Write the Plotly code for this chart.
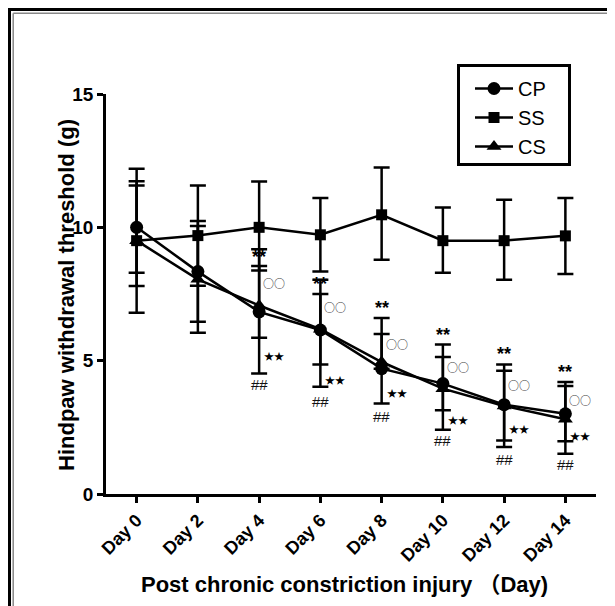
import plotly.graph_objects as go

days = ["Day 0", "Day 2", "Day 4", "Day 6", "Day 8", "Day 10", "Day 12", "Day 14"]

cp_mean = [10.0, 8.34, 6.83, 6.15, 4.70, 4.14, 3.35, 3.01]
cp_up   = [2.2, 1.90, 2.35, 1.88, 1.30, 1.00, 1.51, 1.04]
cp_down = [2.2, 1.88, 2.31, 2.13, 1.31, 1.00, 1.59, 1.03]

ss_mean = [9.5, 9.69, 10.0, 9.72, 10.47, 9.5, 9.5, 9.68]
ss_up   = [2.23, 1.88, 1.72, 1.38, 1.77, 1.24, 1.53, 1.42]
ss_down = [1.20, 1.88, 1.62, 1.38, 1.69, 1.20, 1.47, 1.43]

cs_mean = [9.5, 8.05, 7.07, 6.18, 4.95, 3.95, 3.30, 2.80]
cs_up   = [2.07, 2.00, 1.48, 1.32, 1.65, 1.66, 1.32, 1.40]
cs_down = [2.70, 2.00, 1.21, 1.32, 0.25, 1.54, 1.29, 1.29]

yticks = [0, 5, 10, 15]

sig_idx = [2, 3, 4, 5, 6, 7]
mark_dstar = [8.89, 7.87, 6.97, 5.98, 5.26, 4.57]   # "**"
mark_circ  = [7.90, 7.00, 5.62, 4.78, 4.09, 3.51]   # "○○"
mark_star  = [5.18, 4.31, 3.80, 2.79, 2.47, 2.20]   # "★★"
mark_hash  = [4.09, 3.47, 2.89, 1.99, 1.30, 1.11]   # "##"

x_title = "Post chronic constriction injury （Day)"
y_title = "Hindpaw withdrawal threshold (g)"

# page body has an 8px margin; figure is sized so it fills the 615x606 window
OFF = 8
W, H = 615 - OFF, 606 - OFF
ML, MR, MT, MB = 98, 19, 86, 112
PW, PH = W - ML - MR, H - MT - MB

def px(x):
    return (x - OFF - ML) / PW

def py(y):
    return (H - MB - (y - OFF)) / PH

FONT = "Liberation Sans, Arial, Noto Sans CJK SC, sans-serif"
CJK = "Noto Sans CJK SC, Liberation Sans, sans-serif"

xs = list(range(len(days)))

fig = go.Figure()

def add_series(name, mean, up, down, symbol, size, rank):
    fig.add_trace(go.Scatter(
        x=xs, y=mean, name=name, mode="lines+markers",
        legendgroup=name, legendrank=rank,
        line=dict(color="black", width=2.5),
        marker=dict(symbol=symbol, size=size, color="black"),
        error_y=dict(type="data", symmetric=False, array=up, arrayminus=down,
                     color="black", thickness=2.5, width=8),
    ))

add_series("SS", ss_mean, ss_up, ss_down, "square", 11, 2)
add_series("CS", cs_mean, cs_up, cs_down, "triangle-up", 13, 3)
add_series("CP", cp_mean, cp_up, cp_down, "circle", 13, 1)

ann = []
for i, k in enumerate(sig_idx):
    ann.append(dict(x=k, y=mark_dstar[i], text="**", showarrow=False,
                    font=dict(family=FONT, size=18, color="black", weight="bold")))
    ann.append(dict(x=k, y=mark_circ[i], text="○○", showarrow=False, xshift=15,
                    font=dict(family=CJK, size=11, color="#404040", weight="bold")))
    ann.append(dict(x=k, y=mark_star[i], text="★★", showarrow=False, xshift=15,
                    font=dict(family=CJK, size=10, color="black")))
    ann.append(dict(x=k, y=mark_hash[i], text="##", showarrow=False,
                    font=dict(family=FONT, size=15, color="#111111")))

ann.append(dict(xref="paper", yref="paper", x=px(344), y=py(584), text=x_title,
                showarrow=False, xanchor="center", yanchor="middle",
                font=dict(family=FONT, size=22, color="black", weight="bold")))
ann.append(dict(xref="paper", yref="paper", x=px(66), y=py(295), text=y_title,
                showarrow=False, xanchor="center", yanchor="middle", textangle=-90,
                font=dict(family=FONT, size=22, color="black", weight="bold")))

shapes = [
    # outer frame (black) and inner frame (gray)
    dict(type="line", xref="paper", yref="paper", x0=px(9.5), x1=px(9.5), y0=py(8), y1=py(640),
         line=dict(color="black", width=3)),
    dict(type="line", xref="paper", yref="paper", x0=px(8), x1=px(640), y0=py(9.5), y1=py(9.5),
         line=dict(color="black", width=3)),
    dict(type="line", xref="paper", yref="paper", x0=px(13.2), x1=px(13.2), y0=py(13.2), y1=py(640),
         line=dict(color="#888888", width=1.5)),
    dict(type="line", xref="paper", yref="paper", x0=px(13.2), x1=px(640), y0=py(13.2), y1=py(13.2),
         line=dict(color="#888888", width=1.5)),
    # legend box
    dict(type="rect", xref="paper", yref="paper", x0=px(458.5), x1=px(569.5), y0=py(65.5), y1=py(164.5),
         line=dict(color="black", width=3), fillcolor="rgba(0,0,0,0)"),
]

fig.update_layout(
    width=W, height=H,
    margin=dict(l=ML, r=MR, t=MT, b=MB, autoexpand=False),
    paper_bgcolor="white", plot_bgcolor="white",
    font=dict(family=FONT, color="black"),
    showlegend=True,
    legend=dict(x=px(470), y=py(69), xanchor="left", yanchor="top",
                bgcolor="rgba(0,0,0,0)", borderwidth=0, itemwidth=38,
                font=dict(family=FONT, size=20, color="black"),
                tracegroupgap=5, traceorder="normal"),
    annotations=ann,
    shapes=shapes,
    xaxis=dict(
        range=[-0.5, 7.5], tickmode="array", tickvals=xs, ticktext=days,
        tickangle=-45, showline=True, linecolor="black", linewidth=2.5,
        ticks="outside", ticklen=6, tickwidth=2.5, tickcolor="black",
        showgrid=False, zeroline=False,
        tickfont=dict(family=FONT, size=18, color="black", weight="bold"),
    ),
    yaxis=dict(
        range=[0, 15], tickmode="array", tickvals=yticks,
        showline=True, linecolor="black", linewidth=2.5,
        ticks="outside", ticklen=6, tickwidth=2.5, tickcolor="black",
        showgrid=False, zeroline=False,
        tickfont=dict(family=FONT, size=19, color="black", weight="bold"),
    ),
)

fig.write_html("out.html")
